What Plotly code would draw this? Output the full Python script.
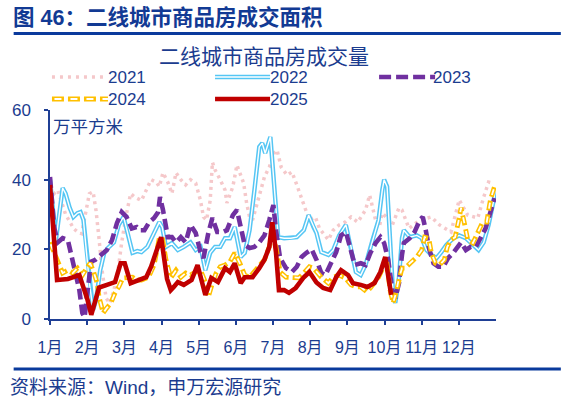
import plotly.graph_objects as go

# ---------------- data ----------------
month_labels = ["1月", "2月", "3月", "4月", "5月", "6月", "7月", "8月", "9月", "10月", "11月", "12月"]
month_pos = list(range(12))          # month starts (0 = 1 Jan, 12 = year end)
y_ticks = [0, 20, 40, 60]

# (position in months since 1 Jan, 万平方米)
s2021 = [(0.00, 38), (0.11, 36), (0.21, 37), (0.32, 33), (0.42, 30), (0.53, 28), (0.63, 26), (0.74, 25),
         (0.85, 24.5), (0.95, 30), (1.06, 36), (1.16, 36.5), (1.24, 31), (1.32, 23), (1.40, 14), (1.51, 6),
         (1.61, 4.5), (1.72, 8.3), (1.83, 14), (1.93, 22), (2.04, 29.3), (2.17, 36), (2.28, 35), (2.46, 34),
         (2.59, 37), (2.72, 40), (2.86, 39.3), (2.94, 38), (3.04, 42), (3.17, 39.3), (3.28, 36), (3.39, 42),
         (3.52, 40), (3.65, 38.5), (3.78, 40), (3.92, 39), (4.05, 34), (4.13, 29.3), (4.21, 28.4), (4.31, 34),
         (4.37, 45), (4.44, 42.8), (4.58, 40), (4.71, 37), (4.76, 33.3), (4.92, 38), (5.03, 44.2), (5.13, 41.3),
         (5.21, 39), (5.29, 33.3), (5.37, 29.3), (5.45, 28.4), (5.63, 35), (5.77, 40.8), (5.90, 43.6), (6.03, 47.6),
         (6.11, 48.5), (6.22, 43.6), (6.38, 41.3), (6.51, 42.2), (6.64, 38.5), (6.77, 34.2), (6.88, 31.3),
         (6.98, 28.4), (7.14, 29.3), (7.25, 26), (7.35, 24.7), (7.49, 22.7), (7.62, 25.5), (7.78, 27), (7.94, 27.8),
         (8.10, 29.3), (8.28, 27.8), (8.36, 29.3), (8.49, 31.3), (8.60, 35.6), (8.68, 31.9), (8.76, 28.4),
         (8.86, 26.4), (8.94, 30.4), (9.07, 29), (9.21, 27), (9.39, 31.9), (9.47, 31.3), (9.66, 26), (9.95, 28.4),
         (10.26, 29.3), (10.48, 27), (10.79, 25), (11.01, 34.2), (11.24, 29.8), (11.51, 29), (11.67, 35),
         (11.80, 39.3), (11.93, 39)]

s2022 = [(0.00, 40), (0.16, 22.7), (0.34, 37.6), (0.42, 36), (0.53, 31.9), (0.63, 29.3), (0.74, 30.4), (0.82, 30.7),
         (0.90, 28.4), (0.98, 19.8), (1.06, 10.3), (1.16, 2.6), (1.24, 5.5), (1.35, 14), (1.46, 19), (1.56, 20.4),
         (1.72, 22), (1.85, 27), (1.98, 29.3), (2.09, 24.7), (2.22, 19), (2.35, 19.5), (2.46, 19.2), (2.62, 20.7),
         (2.80, 24.7), (2.94, 27.8), (3.02, 26.4), (3.12, 20.7), (3.28, 21.8), (3.44, 19.8), (3.60, 20.7), (3.78, 22),
         (3.92, 19.8), (4.05, 20.7), (4.18, 14), (4.31, 19), (4.44, 20.7), (4.58, 20.7), (4.71, 23.2), (4.84, 23.2),
         (4.97, 26.4), (5.13, 17.8), (5.24, 19), (5.37, 25.5), (5.50, 37), (5.63, 49.4), (5.71, 50.5), (5.79, 47.6),
         (5.93, 52.3), (6.03, 38), (6.14, 23.5), (6.30, 23.2), (6.48, 23.2), (6.64, 23.5), (6.83, 25.5), (6.96, 29.8),
         (7.09, 26.4), (7.17, 24.7), (7.30, 19.2), (7.49, 18.4), (7.62, 19.8), (7.78, 24), (7.96, 27), (8.10, 20.7),
         (8.23, 13.5), (8.36, 12.6), (8.49, 15.5), (8.68, 22.7), (8.84, 28.4), (8.94, 37), (8.99, 40), (9.07, 38),
         (9.15, 20.7), (9.23, 7.5), (9.29, 4.6), (9.39, 12), (9.47, 23.2), (9.52, 25.5), (9.68, 23.5), (9.87, 24),
         (10.00, 23.2), (10.13, 19.8), (10.26, 18.4), (10.40, 17.5), (10.53, 19.2), (10.66, 21.2), (10.85, 23.2),
         (11.01, 24), (11.19, 23.2), (11.38, 21.2), (11.53, 19.8), (11.67, 22), (11.80, 27), (11.93, 33.6),
         (11.98, 37)]

s2023 = [(0.00, 40.8), (0.11, 26.4), (0.21, 22), (0.34, 23.2), (0.48, 22.7), (0.56, 19), (0.66, 14), (0.79, 8.3),
         (0.87, 1.7), (0.93, 0.5), (1.01, 8), (1.11, 16.5), (1.22, 17), (1.40, 18.4), (1.53, 19.8), (1.67, 22.7),
         (1.80, 27.5), (1.93, 30.7), (2.06, 29.3), (2.20, 26), (2.33, 26.4), (2.41, 25.5), (2.54, 25.5), (2.67, 27.8),
         (2.80, 29), (2.91, 30.7), (2.96, 35), (3.04, 31.3), (3.12, 26.4), (3.17, 23.5), (3.28, 23.5), (3.39, 22),
         (3.52, 23.5), (3.65, 22), (3.78, 27), (3.92, 24.7), (4.05, 19.2), (4.13, 17.5), (4.26, 24.7), (4.37, 29),
         (4.50, 25), (4.66, 25), (4.76, 25.5), (4.92, 29.8), (5.03, 31.3), (5.13, 26.4), (5.24, 21.2), (5.37, 20.4),
         (5.50, 20.7), (5.63, 22), (5.77, 24), (5.90, 28.4), (6.01, 32.7), (6.08, 25.5), (6.19, 17.5), (6.35, 14.6),
         (6.51, 13.5), (6.64, 15), (6.77, 17.8), (6.90, 19), (7.04, 20), (7.17, 17), (7.30, 13.2), (7.41, 12.6),
         (7.57, 16.4), (7.70, 19.2), (7.83, 24), (7.96, 25), (8.07, 20.7), (8.20, 15.5), (8.36, 16), (8.49, 15.5),
         (8.62, 19), (8.76, 21.8), (8.89, 23.5), (8.99, 21.8), (9.10, 17), (9.21, 8.3), (9.29, 6), (9.39, 10.3),
         (9.47, 18.4), (9.52, 21.8), (9.68, 23.2), (9.81, 25), (9.95, 28.4), (10.03, 29.3), (10.11, 25.5),
         (10.21, 19.8), (10.32, 16), (10.45, 15), (10.58, 15), (10.71, 17.5), (10.85, 19), (10.95, 20.4), (11.06, 22),
         (11.19, 19.8), (11.32, 20.7), (11.46, 20.7), (11.59, 23.2), (11.72, 26), (11.85, 30.7), (11.96, 34.7)]

s2024 = [(0.00, 22), (0.21, 16), (0.34, 13.2), (0.48, 14), (0.61, 13.2), (0.74, 14.6), (0.87, 12.6), (1.01, 15),
         (1.08, 16), (1.16, 14), (1.27, 10.3), (1.32, 6.3), (1.43, 1.7), (1.53, 3.2), (1.64, 4.6), (1.75, 7.5),
         (1.85, 9.2), (1.96, 11.8), (2.09, 12), (2.22, 12), (2.33, 11.2), (2.46, 11.2), (2.65, 12), (2.80, 15.5),
         (2.94, 23.2), (3.02, 23.5), (3.12, 17), (3.25, 11.8), (3.39, 14), (3.52, 12), (3.65, 13.2), (3.78, 12.6),
         (3.92, 13.5), (4.05, 14), (4.18, 10.6), (4.26, 6.3), (4.37, 10.3), (4.47, 13.2), (4.58, 15), (4.71, 15.5),
         (4.84, 16.4), (4.97, 19), (5.11, 16), (5.24, 12.6), (5.37, 12), (5.50, 13.5), (5.63, 15), (5.77, 17),
         (5.90, 20.7), (5.98, 24), (6.08, 20.7), (6.19, 13.5), (6.35, 12), (6.51, 12), (6.69, 11.8), (6.83, 13.2),
         (6.98, 15), (7.09, 14.6), (7.22, 13), (7.30, 12), (7.49, 10.3), (7.62, 12), (7.78, 12.6), (7.94, 11.8),
         (8.10, 9.8), (8.23, 9.2), (8.36, 9.2), (8.52, 7.8), (8.62, 8.9), (8.73, 10.6), (8.84, 12), (8.97, 15),
         (9.07, 15.5), (9.15, 8.3), (9.23, 4.6), (9.31, 7.5), (9.39, 11.8), (9.47, 14.6), (9.55, 14.6), (9.68, 16),
         (9.87, 17.8), (10.00, 19.8), (10.08, 23.5), (10.19, 23.2), (10.26, 19), (10.37, 16), (10.48, 15.5),
         (10.61, 17), (10.69, 20.7), (10.79, 22.7), (10.90, 23.5), (11.01, 29), (11.06, 31.9), (11.16, 27),
         (11.24, 22.7), (11.38, 21.8), (11.51, 25), (11.64, 27.8), (11.75, 27.8), (11.85, 34.2), (11.96, 38)]

s2025 = [(0.00, 38.5), (0.19, 11.2), (0.48, 11.5), (0.79, 12.6), (1.01, 5.5), (1.11, 1.2), (1.32, 9.0), (1.53, 9.8),
         (1.75, 10.6), (1.90, 16.0), (2.01, 16.0), (2.17, 10.3), (2.38, 11.2), (2.59, 12.0), (2.72, 15.0),
         (2.91, 20.7), (2.99, 23.5), (3.15, 11.5), (3.25, 8.3), (3.33, 9.2), (3.44, 10.6), (3.60, 9.8), (3.73, 10.6),
         (3.81, 11.2), (3.97, 15.5), (4.07, 11.8), (4.18, 6.9), (4.34, 11.8), (4.52, 10.6), (4.71, 14.6),
         (4.84, 13.5), (4.97, 16.0), (5.13, 10.3), (5.24, 12.0), (5.45, 12.0), (5.63, 14.6), (5.77, 17.0),
         (5.90, 20.7), (5.98, 27.8), (6.08, 19.2), (6.16, 8.3), (6.30, 8.3), (6.43, 7.5), (6.61, 8.9), (6.83, 12.0),
         (6.98, 13.5), (7.17, 10.5), (7.35, 8.9), (7.54, 8.3), (7.70, 12.0), (7.83, 14.0), (8.02, 12.6),
         (8.15, 10.3), (8.36, 9.8), (8.54, 9.2), (8.73, 10.3), (8.89, 13.5), (9.02, 17.8), (9.10, 12.0), (9.18, 6.9)]

# ---------------- style / layout ----------------
W, H = 566, 399
L, R, T, B = 42, 70, 110, 80
PW, PH = W - L - R, H - T - B
TXT = "#1B3C8F"
AXC = "#1F3F95"
RULE = "#0A3A9C"
FONT = "Liberation Sans, Arial, Noto Sans CJK SC, sans-serif"

C21, C22, C23, C24, C25 = "#F5C8CA", "#55C6F4", "#7030A0", "#FFC000", "#C00000"
DASH24_OUT, DASH24_IN = "10px,4px", "0px,2px,6px,6px"


def fx(p):  # pixel x -> paper
    return (p - L) / PW


def fy(p):  # pixel y -> paper
    return (H - B - p) / PH


def split(s):
    return [a for a, _ in s], [b for _, b in s]


fig = go.Figure()
x, y = split(s2021)
fig.add_trace(go.Scatter(x=x, y=y, mode="lines", line=dict(color=C21, width=3.5, dash="3px,4px"), name="2021"))
x, y = split(s2022)
fig.add_trace(go.Scatter(x=x, y=y, mode="lines", line=dict(color=C22, width=4.4), name="2022"))
fig.add_trace(go.Scatter(x=x, y=y, mode="lines", line=dict(color="white", width=1.4), name="2022i"))
x, y = split(s2023)
fig.add_trace(go.Scatter(x=x, y=y, mode="lines", line=dict(color=C23, width=4.6, dash="11px,5px"), name="2023"))
x, y = split(s2024)
fig.add_trace(go.Scatter(x=x, y=y, mode="lines", line=dict(color=C24, width=4.8, dash=DASH24_OUT), name="2024"))
fig.add_trace(go.Scatter(x=x, y=y, mode="lines", line=dict(color="white", width=1.8, dash=DASH24_IN), name="2024i"))
x, y = split(s2025)
fig.add_trace(go.Scatter(x=x, y=y, mode="lines", line=dict(color=C25, width=4.6), name="2025"))

shapes = []
annots = []


def hline(x0, x1, yp, color, width, dash="solid"):
    shapes.append(dict(type="line", xref="paper", yref="paper", x0=fx(x0), x1=fx(x1), y0=fy(yp), y1=fy(yp),
                       line=dict(color=color, width=width, dash=dash), layer="above"))


def text(xp, yp, s, size, anchor="left", bold=False, color=TXT):
    annots.append(dict(xref="paper", yref="paper", x=fx(xp), y=fy(yp), text=f"<b>{s}</b>" if bold else s,
                       showarrow=False, xanchor=anchor, yanchor="middle",
                       font=dict(family=FONT, size=size, color=color)))


# header & footer
text(2, 18, "图 46：二线城市商品房成交面积", 21.5, bold=True, color="#123A94")
hline(5, 562, 33.5, RULE, 3)
hline(5, 562, 369, RULE, 3)
text(-1, 387, "资料来源：Wind，申万宏源研究", 19)

# chart title, unit
text(260, 57, "二线城市商品房成交量", 21, anchor="center")
text(43, 127, "万平方米", 17.5)

# custom legend
hline(44, 99, 77, C21, 3.5, "3px,5px")
text(99, 77, "2021", 17)
hline(210, 266, 77, C22, 4.4)
hline(210, 266, 77, "white", 1.4)
text(264, 77, "2022", 17)
hline(377, 434, 77, C23, 4.6, "12px,5px")
text(430, 77, "2023", 17)
hline(44, 101, 99, C24, 4.8, "12px,4px")
hline(44, 101, 99, "white", 1.8, "0px,2.5px,7px,6.5px")
text(99, 99, "2024", 17)
hline(210, 266, 99, C25, 4.6)
text(264, 99, "2025", 17)

fig.update_layout(
    width=W, height=H, margin=dict(l=L, r=R, t=T, b=B, pad=0),
    paper_bgcolor="white", plot_bgcolor="white", showlegend=False,
    shapes=shapes, annotations=annots,
    font=dict(family=FONT, color=TXT),
)
fig.update_xaxes(range=[0, 12], tickvals=month_pos, ticktext=month_labels, showgrid=False, zeroline=False,
                 showline=True, linecolor=AXC, linewidth=1.5, ticks="outside", ticklen=4, tickcolor=AXC,
                 tickwidth=1.5, tickfont=dict(family=FONT, size=16, color=TXT), ticklabelstandoff=9)
fig.update_yaxes(range=[0, 60], tickvals=y_ticks, showgrid=False, zeroline=False,
                 showline=True, linecolor=AXC, linewidth=1.5, ticks="outside", ticklen=4, tickcolor=AXC,
                 tickwidth=1.5, tickfont=dict(family=FONT, size=17, color=TXT), ticklabelstandoff=10)

fig.write_html("out.html", config={"displayModeBar": False},
               post_script="document.body.style.margin='0';document.body.style.overflow='hidden';")
